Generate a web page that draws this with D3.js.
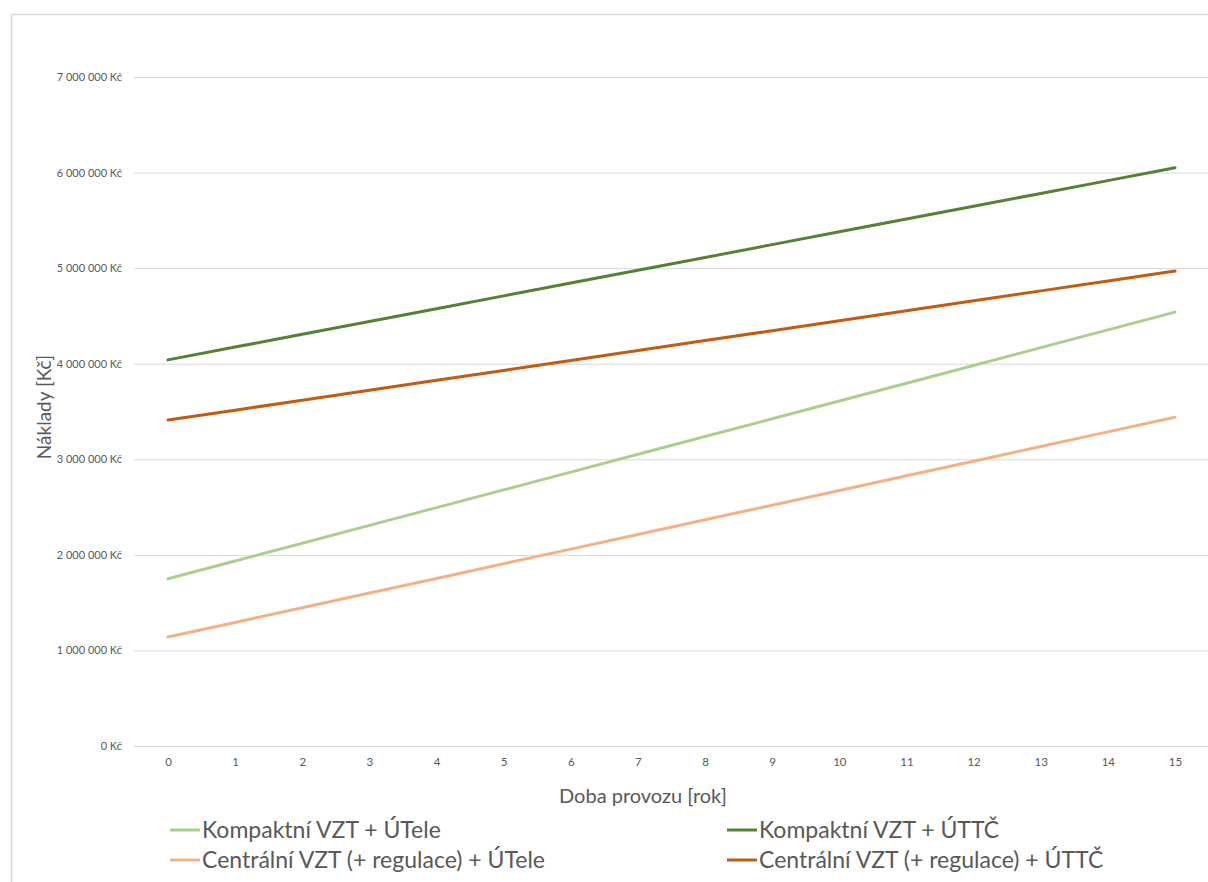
<!DOCTYPE html>
<html><head><meta charset="utf-8">
<script src="https://cdn.jsdelivr.net/npm/d3@7"></script>
<style>body{margin:0;background:#fff;} text{font-family:Lato,"Open Sans",sans-serif;}</style>
</head><body><svg id="c" width="1208" height="882"></svg>
<script>
const years = [0,1,2,3,4,5,6,7,8,9,10,11,12,13,14,15];
const seriesNames = ["Kompaktní VZT + ÚTele","Kompaktní VZT + ÚTTČ","Centrální VZT (+ regulace) + ÚTele","Centrální VZT (+ regulace) + ÚTTČ"];
const kompaktniUTele = [1750000,1936000,2122000,2308000,2494000,2680000,2866000,3052000,3238000,3424000,3610000,3796000,3982000,4168000,4354000,4540000];
const kompaktniUTTC = [4040000,4174000,4308000,4442000,4576000,4710000,4844000,4978000,5112000,5246000,5380000,5514000,5648000,5782000,5916000,6050000];
const centralniUTele = [1140000,1293000,1447000,1600000,1753000,1907000,2060000,2213000,2367000,2520000,2673000,2827000,2980000,3133000,3287000,3440000];
const centralniUTTC = [3410000,3514000,3618000,3722000,3826000,3930000,4034000,4138000,4242000,4346000,4450000,4554000,4658000,4762000,4866000,4970000];
const yTicks = [0,1000000,2000000,3000000,4000000,5000000,6000000,7000000];
const colors = ["#a9d18e","#548235","#f4b183","#c55a11"];
const allSeries = [kompaktniUTele,kompaktniUTTC,centralniUTele,centralniUTTC];

const svg = d3.select("#c");
svg.append("rect").attr("x",11.5).attr("y",14.5).attr("width",1210).attr("height",880)
  .attr("fill","#fff").attr("stroke","#d9d9d9").attr("stroke-width",1.5);

const x = d3.scalePoint().domain(years).range([168,1175]);
const y = d3.scaleLinear().domain([0,7000000]).range([746,77]);

const fmt = v => d3.format(",")(v).replace(/,/g," ") + " Kč";

const yAxis = d3.axisLeft(y).tickValues(yTicks).tickSize(-(1209-134)).tickFormat(fmt).tickPadding(12);
const gy = svg.append("g").attr("transform","translate(134,0)").call(yAxis);
gy.select(".domain").remove();
gy.selectAll(".tick line").attr("stroke","#d9d9d9").attr("stroke-width",1);
gy.selectAll(".tick text").attr("fill","#595959").style("font-size","11px").attr("x",-12);

const xAxis = d3.axisBottom(x).tickSize(0).tickPadding(12);
const gx = svg.append("g").attr("transform","translate(0,746)").call(xAxis);
gx.select(".domain").remove();
gx.selectAll(".tick text").attr("fill","#595959").style("font-size","11.5px");

const line = d3.line().x((d,i)=>x(years[i])).y(d=>y(d));
allSeries.forEach((s,i)=>{
  svg.append("path").datum(s).attr("d",line).attr("fill","none")
    .attr("stroke",colors[i]).attr("stroke-width",3).attr("stroke-linecap","round");
});

svg.append("text").attr("transform","translate(51,407) rotate(-90)").attr("text-anchor","middle")
  .attr("fill","#595959").style("font-size","19px").text("Náklady [Kč]");
svg.append("text").attr("x",643).attr("y",803).attr("text-anchor","middle")
  .attr("fill","#595959").style("font-size","20px").text("Doba provozu [rok]");

const legPos = [[170,830],[727,830],[170,860],[727,860]];
seriesNames.forEach((n,i)=>{
  const [lx,ly] = legPos[i];
  svg.append("line").attr("x1",lx).attr("x2",lx+30).attr("y1",ly).attr("y2",ly)
    .attr("stroke",colors[i]).attr("stroke-width",3);
  svg.append("text").attr("x",lx+32).attr("y",ly+8).attr("fill","#595959")
    .style("font-size","23px").text(n);
});
</script></body></html>
